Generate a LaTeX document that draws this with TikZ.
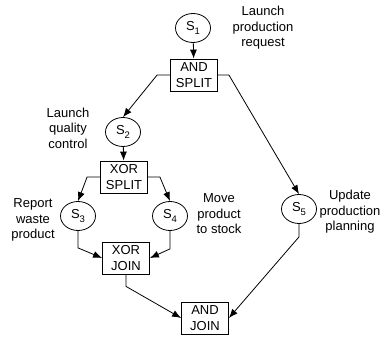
\documentclass[tikz,border=0pt]{standalone}
\usepackage{fontspec}
\setmainfont{Liberation Sans}
\usetikzlibrary{shapes.geometric,arrows.meta}
\newcommand\stsub[1]{\raisebox{-0.45ex}{\fontsize{9.5}{9.5}\selectfont #1}}
\begin{document}
\begin{tikzpicture}[x=1pt,y=-1pt,line width=0.8pt,
  font=\fontsize{13}{15.5}\selectfont,
  place/.style={draw,ellipse,minimum width=35pt,minimum height=29pt,inner sep=0pt},
  gate/.style={draw,rectangle,align=center,minimum width=47pt,minimum height=32pt,
    inner sep=1pt,font=\fontsize{13}{16}\selectfont},
  note/.style={align=center},
  flow/.style={-{Latex[length=9pt,width=7pt]}}]
\useasboundingbox (0,0) rectangle (390,339);
% states
\node[place] (s1) at (193,28) {S\stsub{1}};
\node[place] (s2) at (123,132) {S\stsub{2}};
\node[place] (s3) at (78,216) {S\stsub{3}};
\node[place] (s4) at (170,216) {S\stsub{4}};
\node[place] (s5) at (299,209) {S\stsub{5}};
% split and join gates
\node[gate] (andsplit) at (194,75) {AND\\SPLIT};
\node[gate] (xorsplit) at (124,177) {XOR\\SPLIT};
\node[gate] (xorjoin) at (126,258) {XOR\\JOIN};
\node[gate] (andjoin) at (205,318) {AND\\JOIN};
% activity names
\node[note] (l1) at (263,28) {Launch\\production\\request};
\node[note] (l2) at (68,128) {Launch\\quality\\control};
\node[note] (l3) at (33,220) {Report\\waste\\product};
\node[note] (l4) at (219,214) {Move\\product\\to stock};
\node[note] (l5) at (350,212) {Update\\production\\planning};
% flow
\draw[flow] (s1) -- (andsplit);
\draw[flow] (andsplit.west) -- ++(-13,0) -- (s2.north);
\draw[flow] (andsplit.east) -- ++(11,0) -- (s5.north);
\draw[flow] (s2) -- (xorsplit);
\draw[flow] (xorsplit.west) -- ++(-13,0) -- (s3.north);
\draw[flow] (xorsplit.east) -- ++(12,0) -- (s4.north);
\draw[flow] (s3.south) -- ++(0,17) -- (xorjoin.west);
\draw[flow] (s4.south) -- ++(0,18) -- (xorjoin.east);
\draw[flow] (xorjoin.south) -- ++(0,12) -- (andjoin.west);
\draw[flow] (s5.south) -- ++(0,13) -- (andjoin.east);
\end{tikzpicture}
\end{document}
